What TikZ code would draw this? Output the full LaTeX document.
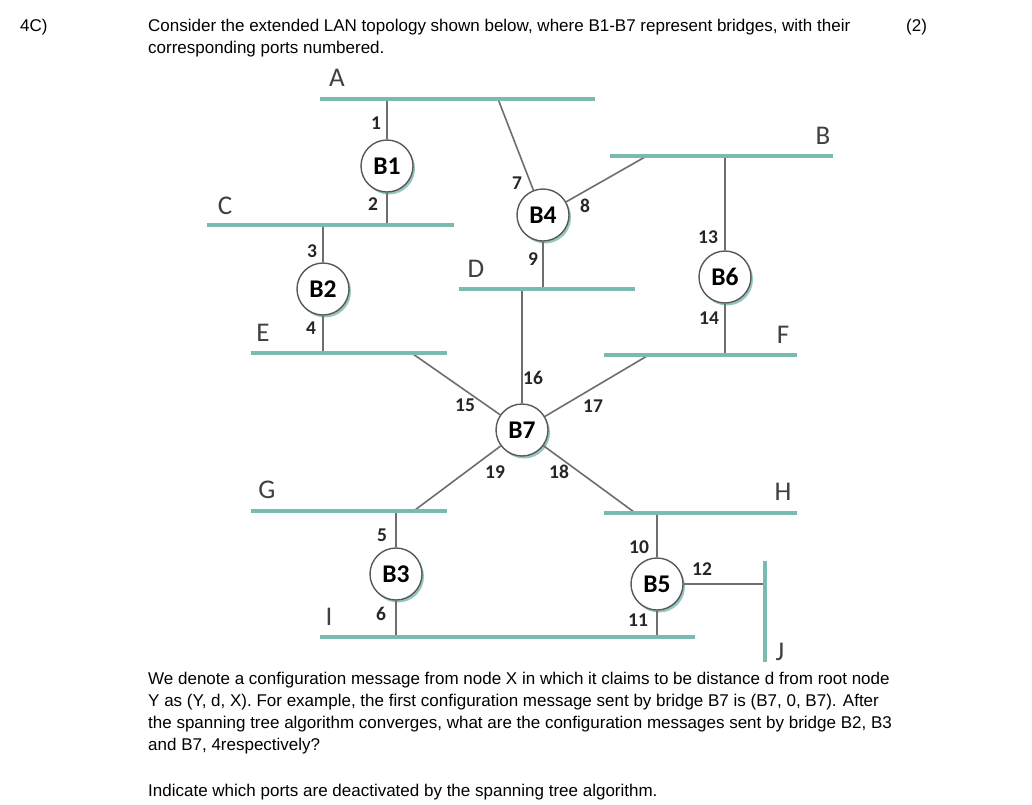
\documentclass[tikz,border=0pt]{standalone}
\usepackage{fontspec}
\setmainfont{Liberation Sans}
\newfontfamily\calf{Carlito}
\usetikzlibrary{shadows}
\definecolor{lanteal}{RGB}{122,186,176}
\definecolor{wiregray}{RGB}{110,110,110}
\definecolor{lblgray}{RGB}{64,64,64}
\begin{document}
\begin{tikzpicture}[x=1pt,y=-1pt,
  seg/.style={draw=lanteal,line width=4.5pt},
  wire/.style={draw=wiregray,line width=1.6pt},
  bridge/.style={circle,draw=wiregray!80!black,line width=1.4pt,fill=white,
    minimum size=52pt,inner sep=0pt,font=\calf\bfseries\fontsize{25.5}{25.5}\selectfont,
    drop shadow={shadow xshift=2pt,shadow yshift=-2.5pt,fill=lanteal,opacity=0.8}},
  port/.style={font=\calf\bfseries\fontsize{19.5}{19.5}\selectfont,text=black!85,inner sep=0pt},
  lan/.style={font=\calf\fontsize{27}{27}\selectfont,text=lblgray,inner sep=0pt},
  body/.style={font=\fontsize{17}{20}\selectfont,anchor=base west,inner sep=0pt}]
\useasboundingbox[fill=white] (0,0) rectangle (1032,804);

% segment end points
\coordinate (Al) at (320,99);  \coordinate (Ar) at (595,99);
\coordinate (Bl) at (610,156); \coordinate (Br) at (833,156);
\coordinate (Cl) at (207,225); \coordinate (Cr) at (454,225);
\coordinate (Dl) at (459,289); \coordinate (Dr) at (635,289);
\coordinate (El) at (251,353); \coordinate (Er) at (447,353);
\coordinate (Fl) at (604,355); \coordinate (Fr) at (797,355);
\coordinate (Gl) at (251,511); \coordinate (Gr) at (447,511);
\coordinate (Hl) at (604,513); \coordinate (Hr) at (797,513);
\coordinate (Il) at (320,637); \coordinate (Ir) at (695,637);
\coordinate (Jt) at (765,561); \coordinate (Jb) at (765,662);

% attach points on segments
\coordinate (a1) at (387,99);
\coordinate (a7) at (498,99);
\coordinate (b8) at (645,157);
\coordinate (b13) at (725,156);
\coordinate (c2) at (387,225);
\coordinate (c3) at (323,225);
\coordinate (d9) at (543,289);
\coordinate (d16) at (522,289);
\coordinate (e4) at (323,353);
\coordinate (e15) at (413,354);
\coordinate (f14) at (725,355);
\coordinate (f17) at (647,356);
\coordinate (g5) at (396,511);
\coordinate (g19) at (415,510);
\coordinate (h10) at (657,513);
\coordinate (h18) at (634,512);
\coordinate (i6) at (396,637);
\coordinate (i11) at (657,637);
\coordinate (j12) at (765,584);

% bridges
\node[bridge] (B1) at (387,166) {B1};
\node[bridge] (B2) at (323,289) {B2};
\node[bridge] (B3) at (396,574) {B3};
\node[bridge] (B4) at (543,215) {B4};
\node[bridge] (B5) at (657,584) {B5};
\node[bridge] (B6) at (725,277) {B6};
\node[bridge] (B7) at (522,430) {B7};

% connectors
\draw[wire] (B1) -- (a1);
\draw[wire] (B1) -- (c2);
\draw[wire] (B2) -- (c3);
\draw[wire] (B2) -- (e4);
\draw[wire] (B3) -- (g5);
\draw[wire] (B3) -- (i6);
\draw[wire] (B4) -- (a7);
\draw[wire] (B4) -- (b8);
\draw[wire] (B4) -- (d9);
\draw[wire] (B5) -- (h10);
\draw[wire] (B5) -- (i11);
\draw[wire] (B5) -- (j12);
\draw[wire] (B6) -- (b13);
\draw[wire] (B6) -- (f14);
\draw[wire] (B7) -- (e15);
\draw[wire] (B7) -- (d16);
\draw[wire] (B7) -- (f17);
\draw[wire] (B7) -- (h18);
\draw[wire] (B7) -- (g19);

% LAN segments
\draw[seg] (Al) -- (Ar);
\draw[seg] (Bl) -- (Br);
\draw[seg] (Cl) -- (Cr);
\draw[seg] (Dl) -- (Dr);
\draw[seg] (El) -- (Er);
\draw[seg] (Fl) -- (Fr);
\draw[seg] (Gl) -- (Gr);
\draw[seg] (Hl) -- (Hr);
\draw[seg] (Il) -- (Ir);
\draw[seg] (Jt) -- (Jb);

% LAN labels
\node[lan] (lA) at (337,78) {A};
\node[lan] (lB) at (823,136) {B};
\node[lan] (lC) at (225,206) {C};
\node[lan] (lD) at (476,269) {D};
\node[lan] (lE) at (263,333) {E};
\node[lan] (lF) at (783,335) {F};
\node[lan] (lG) at (267,490) {G};
\node[lan] (lH) at (783,492) {H};
\node[lan] (lI) at (329,617) {I};
\node[lan] (lJ) at (780,652) {J};

% port labels
\node[port] (p1) at (376,123) {1};
\node[port] (p2) at (373,204) {2};
\node[port] (p3) at (312,251) {3};
\node[port] (p4) at (311,328) {4};
\node[port] (p5) at (382,535) {5};
\node[port] (p6) at (381,614) {6};
\node[port] (p7) at (517,183) {7};
\node[port] (p8) at (585,206) {8};
\node[port] (p9) at (533,259) {9};
\node[port] (p10) at (639,547) {10};
\node[port] (p11) at (638,620) {11};
\node[port] (p12) at (702,569) {12};
\node[port] (p13) at (708,237) {13};
\node[port] (p14) at (709,318) {14};
\node[port] (p15) at (465,405) {15};
\node[port] (p16) at (533,378) {16};
\node[port] (p17) at (593,406) {17};
\node[port] (p18) at (559,472) {18};
\node[port] (p19) at (495,472) {19};

% texts
\node[body] (qno) at (20,31) {4C)};
\node[body] (t1) at (148,31) {Consider the extended LAN topology shown below, where B1-B7 represent bridges, with their};
\node[body] (t2) at (148,53) {corresponding ports numbered.};
\node[body] (mk) at (906,31) {(2)};
\node[body] (u1) at (148,684) {We denote a configuration message from node X in which it claims to be distance d from root node};
\node[body] (u2) at (148,706) {Y as (Y, d, X). For example, the first configuration message sent by bridge B7 is (B7, 0, B7). After};
\node[body] (u3) at (148,728) {the spanning tree algorithm converges, what are the configuration messages sent by bridge B2, B3};
\node[body] (u4) at (148,750) {and B7, 4respectively?};
\node[body] (u5) at (148,796) {Indicate which ports are deactivated by the spanning tree algorithm.};
\end{tikzpicture}
\end{document}
